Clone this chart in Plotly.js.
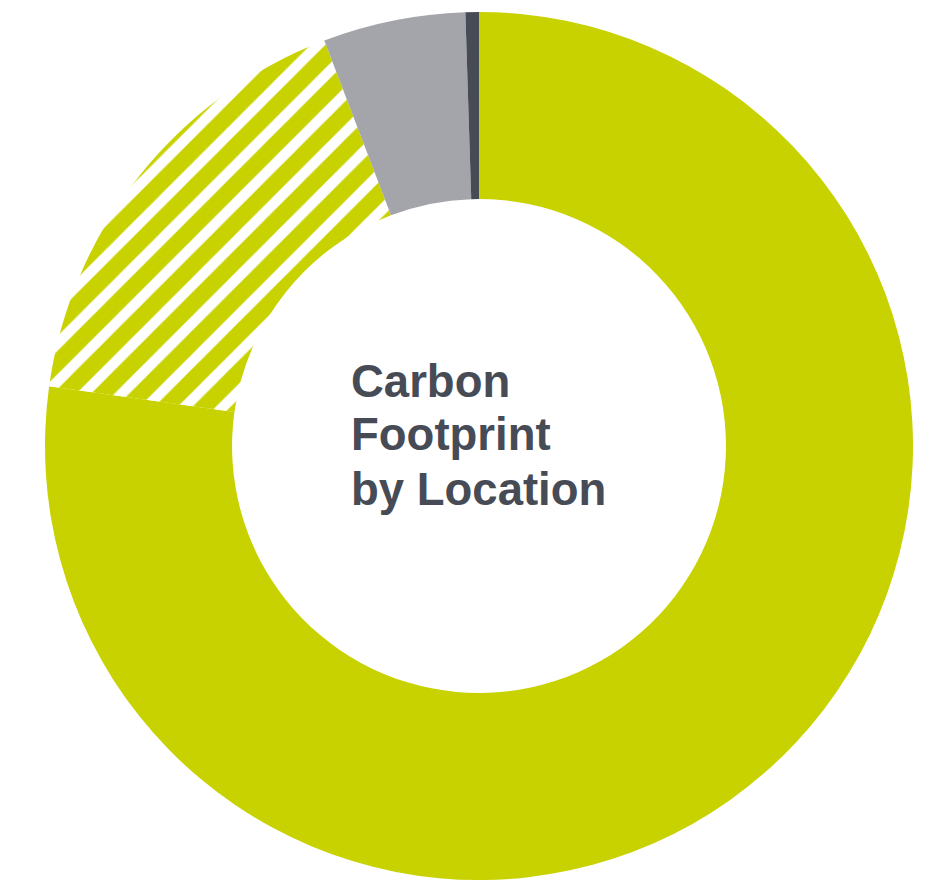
<!DOCTYPE html>
<html>
<head>
<meta charset="utf-8">
<script src="https://cdn.plot.ly/plotly-3.0.1.min.js"></script>
<style>html,body{margin:0;padding:0;background:#fff;}#chart{width:943px;height:880px;}</style>
</head>
<body>
<div id="chart"></div>
<script>
const labels = ["Location A", "Location B", "Location C", "Location D"];
const values = [77.2, 17.0, 5.3, 0.5];
const sliceColors = ["#c8d200", "#c8d200", "#a4a5aa", "#474b55"];
const slicePatterns = ["", "/", "", ""];
const titleLines = ["Carbon", "Footprint", "by Location"];

const W = 943, H = 880;
const cx = 479, cy = 446, R = 434;
const textLeft = 350, firstBaseline = 395, lineStep = 54, fontSize = 45.5;

const data = [{
  type: "pie",
  labels: labels,
  values: values,
  sort: false,
  direction: "clockwise",
  rotation: 0,
  hole: 0.569,
  textinfo: "none",
  hoverinfo: "none",
  showlegend: false,
  domain: { x: [(cx - R) / W, (cx + R) / W], y: [(H - cy - R) / H, (H - cy + R) / H] },
  marker: {
    colors: sliceColors,
    line: { width: 0 },
    pattern: {
      shape: slicePatterns,
      fgcolor: sliceColors,
      bgcolor: "#ffffff",
      size: 27,
      solidity: 0.61
    }
  }
}];

const annotations = titleLines.map((t, i) => ({
  text: t,
  xref: "paper", yref: "paper",
  x: textLeft / W,
  y: (H - (firstBaseline + i * lineStep - 14)) / H,
  xanchor: "left", yanchor: "middle",
  align: "left",
  showarrow: false,
  borderpad: 0,
  font: { family: "Liberation Sans, Arial, Helvetica, sans-serif", size: fontSize, color: "#474b55", weight: "bold" }
}));

const layout = {
  width: W, height: H,
  margin: { l: 0, r: 0, t: 0, b: 0 },
  paper_bgcolor: "#ffffff",
  plot_bgcolor: "#ffffff",
  showlegend: false,
  annotations: annotations
};

Plotly.newPlot("chart", data, layout, { displayModeBar: false, staticPlot: true });
</script>
</body>
</html>
